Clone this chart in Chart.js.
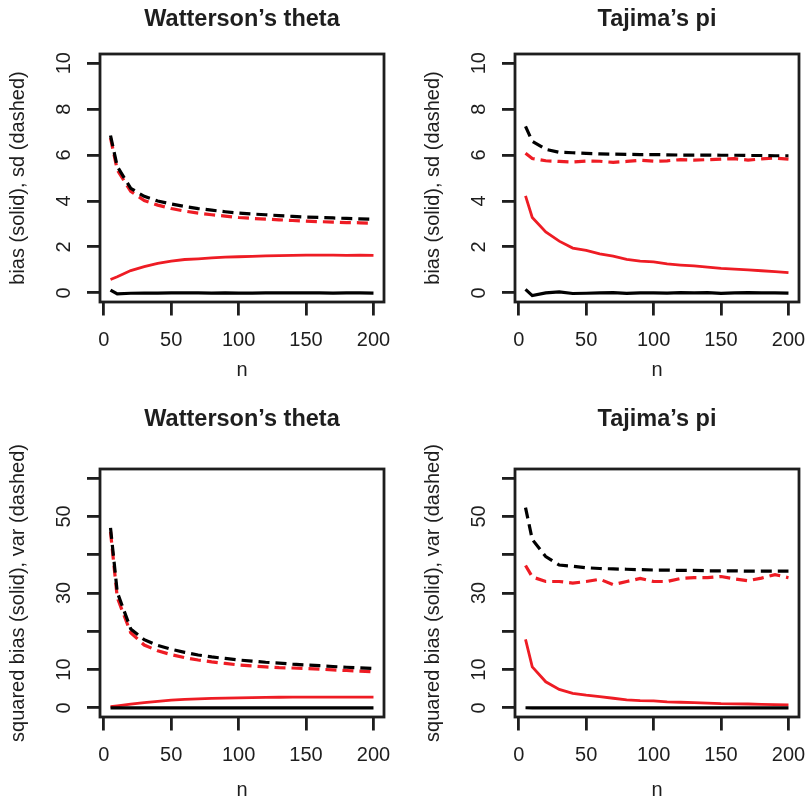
<!DOCTYPE html>
<html>
<head>
<meta charset="utf-8">
<script src="https://cdn.jsdelivr.net/npm/chart.js@4.4.1/dist/chart.umd.min.js"></script>
<style>
  html, body { margin: 0; padding: 0; background: #fff; }
  body { width: 805px; height: 800px; overflow: hidden; position: relative; }
  canvas { position: absolute; }
</style>
</head>
<body>
<canvas id="c1" width="484" height="420" style="left:0;top:0"></canvas>
<canvas id="c2" width="484" height="420" style="left:415px;top:0"></canvas>
<canvas id="c3" width="484" height="420" style="left:0;top:400px"></canvas>
<canvas id="c4" width="484" height="420" style="left:415px;top:400px"></canvas>
<script>
// ===== data =====
const N = [5, 10, 20, 30, 40, 50, 60, 70, 80, 90, 100, 110, 120, 130, 140, 150, 160, 170, 180, 190, 200];
const X_TICKS = [0, 50, 100, 150, 200];

// top row: bias (solid), sd (dashed)
const W_SD_BLACK = [6.85, 5.5, 4.55, 4.2, 4.0, 3.87, 3.76, 3.67, 3.6, 3.53, 3.47, 3.43, 3.4, 3.36, 3.33, 3.3, 3.28, 3.26, 3.24, 3.22, 3.2];
const W_SD_RED = [6.75, 5.35, 4.42, 4.02, 3.82, 3.67, 3.56, 3.47, 3.4, 3.34, 3.28, 3.24, 3.21, 3.18, 3.15, 3.12, 3.1, 3.08, 3.06, 3.05, 3.03];
const W_BIAS_RED = [0.58, 0.7, 0.97, 1.14, 1.28, 1.38, 1.45, 1.48, 1.52, 1.55, 1.57, 1.59, 1.61, 1.62, 1.63, 1.64, 1.64, 1.64, 1.63, 1.64, 1.63];
const W_BIAS_BLACK = [0.12, -0.05, -0.02, -0.01, -0.01, 0, 0, 0, -0.01, 0, -0.01, -0.01, 0, 0, 0, 0, 0, -0.01, 0, 0, -0.01];

const T_SD_BLACK = [7.25, 6.6, 6.25, 6.12, 6.1, 6.07, 6.05, 6.04, 6.03, 6.02, 6.02, 6.01, 6.0, 6.0, 6.0, 5.99, 5.99, 5.98, 5.98, 5.97, 5.97];
const T_SD_RED = [6.08, 5.85, 5.75, 5.72, 5.7, 5.74, 5.73, 5.68, 5.72, 5.77, 5.73, 5.75, 5.8, 5.78, 5.8, 5.82, 5.84, 5.78, 5.83, 5.87, 5.82];
const T_BIAS_RED = [4.22, 3.28, 2.65, 2.25, 1.95, 1.85, 1.7, 1.6, 1.46, 1.38, 1.35, 1.26, 1.21, 1.17, 1.12, 1.06, 1.03, 1.0, 0.96, 0.92, 0.88];
const T_BIAS_BLACK = [0.15, -0.12, 0.0, 0.04, -0.03, -0.02, 0.0, 0.01, -0.02, 0.0, 0.0, -0.01, 0.01, 0.0, 0.01, -0.02, 0.0, 0.01, 0.0, 0.0, -0.01];

// bottom row: squared bias (solid), var (dashed)
const W_VAR_BLACK = [47, 30.2, 20.6, 17.8, 16.3, 15.3, 14.5, 13.8, 13.3, 12.9, 12.5, 12.2, 11.9, 11.7, 11.4, 11.2, 11.0, 10.8, 10.6, 10.45, 10.3];
const W_VAR_RED = [46, 28.8, 19.6, 16.4, 14.9, 13.9, 13.1, 12.5, 12.0, 11.6, 11.2, 10.95, 10.7, 10.5, 10.4, 10.3, 10.1, 9.9, 9.75, 9.6, 9.4];
const W_SQB_RED = [0.3, 0.5, 0.95, 1.35, 1.7, 2.0, 2.2, 2.35, 2.45, 2.55, 2.62, 2.68, 2.72, 2.76, 2.78, 2.8, 2.8, 2.8, 2.8, 2.8, 2.78];
const W_SQB_BLACK = [0.01, 0, 0, 0, 0, 0, 0, 0, 0, 0, 0, 0, 0, 0, 0, 0, 0, 0, 0, 0, 0];

const T_VAR_BLACK = [52.3, 44, 39.5, 37.3, 37.0, 36.6, 36.4, 36.3, 36.2, 36.1, 36.0, 36.0, 35.9, 35.9, 35.8, 35.8, 35.8, 35.7, 35.7, 35.7, 35.7];
const T_VAR_RED = [37.2, 34.2, 33.0, 33.0, 32.6, 33.0, 33.6, 32.2, 33.0, 33.8, 33.0, 33.0, 33.8, 34.0, 34.0, 34.3, 33.7, 33.2, 33.9, 34.8, 34.0];
const T_SQB_RED = [17.9, 10.7, 6.8, 4.8, 3.8, 3.3, 2.9, 2.5, 2.1, 1.9, 1.8, 1.55, 1.45, 1.35, 1.25, 1.1, 1.05, 1.0, 0.9, 0.85, 0.78];
const T_SQB_BLACK = [0.02, 0.01, 0, 0, 0, 0, 0, 0, 0, 0, 0, 0, 0, 0, 0, 0, 0, 0, 0, 0, 0];

const Y_TICKS_TOP = [0, 2, 4, 6, 8, 10];
const Y_LABELS_TOP = ['0', '2', '4', '6', '8', '10'];
const Y_TICKS_BOTTOM = [0, 10, 20, 30, 40, 50, 60];
const Y_LABELS_BOTTOM = ['0', '10', '', '30', '', '50', ''];

// ===== style =====
const FONT = "'Liberation Sans', Arial, Helvetica, sans-serif";
const INK = '#1e1e1e';
const RED = '#ee1c24';
const BLACK = '#000';
const DASH = [11, 6];
const TICK_SIZE = 20;

// R-like box around the plot region
const boxPlugin = {
  id: 'rBox',
  afterDraw(chart) {
    const { ctx, chartArea: a } = chart;
    ctx.save();
    ctx.strokeStyle = INK;
    ctx.lineWidth = 2.8;
    ctx.strokeRect(a.left, a.top, a.right - a.left, a.bottom - a.top);
    ctx.restore();
  },
};

// y tick labels drawn parallel to the axis, like R's las=0
const yLabelPlugin = {
  id: 'rYLabels',
  afterDraw(chart, args, opts) {
    const y = chart.scales.y;
    const ctx = chart.ctx;
    ctx.save();
    ctx.font = `${TICK_SIZE}px ${FONT}`;
    ctx.fillStyle = INK;
    ctx.textAlign = 'center';
    ctx.textBaseline = 'middle';
    y.ticks.forEach((t, i) => {
      const lbl = opts.labels[i];
      if (!lbl) return;
      ctx.save();
      ctx.translate(opts.x, y.getPixelForValue(t.value));
      ctx.rotate(-Math.PI / 2);
      ctx.fillText(lbl, 0, 0);
      ctx.restore();
    });
    ctx.restore();
  },
};

function line(arr, color, dashed, width) {
  return {
    data: N.map((n, i) => ({ x: n, y: arr[i] })),
    borderColor: color,
    borderWidth: width,
    borderDash: dashed ? DASH : [],
    borderCapStyle: 'butt',
    pointRadius: 0,
    tension: 0,
    fill: false,
  };
}

function makePanel(id, cfg) {
  const xMin = N[0] - 0.04 * (N[N.length - 1] - N[0]);
  const xMax = N[N.length - 1] + 0.04 * (N[N.length - 1] - N[0]);
  const yRange = cfg.yMax - cfg.yMin;
  return new Chart(document.getElementById(id), {
    type: 'line',
    data: { datasets: cfg.series },
    plugins: [boxPlugin, yLabelPlugin],
    options: {
      responsive: false,
      animation: false,
      devicePixelRatio: 1,
      layout: { padding: 0 },
      plugins: {
        legend: { display: false },
        tooltip: { enabled: false },
        title: {
          display: true,
          text: cfg.title,
          color: INK,
          font: { family: FONT, size: 23.5, weight: 'bold', lineHeight: 1.2 },
          padding: { top: 5.9, bottom: cfg.titleGap },
        },
        rYLabels: { labels: cfg.yLabels, x: 64 },
      },
      scales: {
        x: {
          type: 'linear',
          min: xMin,
          max: xMax,
          afterBuildTicks: (s) => { s.ticks = X_TICKS.map((v) => ({ value: v })); },
          afterFit: (s) => { s.height = cfg.xHeight; },
          border: { display: false },
          grid: { drawOnChartArea: false, drawTicks: true, tickLength: 13.5, color: INK, lineWidth: 2.8 },
          ticks: {
            color: INK,
            padding: 12.8,
            maxRotation: 0,
            font: { family: FONT, size: TICK_SIZE },
            callback: (v) => String(v),
          },
          title: {
            display: true,
            text: 'n',
            color: INK,
            font: { family: FONT, size: TICK_SIZE, lineHeight: 1.2 },
            padding: { top: 0, bottom: cfg.nGap },
          },
        },
        y: {
          type: 'linear',
          position: 'left',
          min: cfg.yMin - 0.04 * yRange,
          max: cfg.yMax + 0.04 * yRange,
          afterBuildTicks: (s) => { s.ticks = cfg.yTicks.map((v) => ({ value: v })); },
          afterFit: (s) => { s.width = 100; },
          border: { display: false },
          grid: { drawOnChartArea: false, drawTicks: true, tickLength: 13, color: INK, lineWidth: 2.8 },
          ticks: { display: false },
          title: {
            display: true,
            text: cfg.yTitle,
            color: INK,
            font: { family: FONT, size: TICK_SIZE, lineHeight: 1.2 },
            padding: { top: 6.5, bottom: 0 },
          },
        },
        // empty right margin so the title centres over the plot box
        yr: {
          type: 'linear',
          position: 'right',
          afterFit: (s) => { s.width = 100; },
          border: { display: false },
          grid: { display: false },
          ticks: { display: false },
        },
      },
    },
  });
}

const TOP = { yMin: 0, yMax: 10, yTicks: Y_TICKS_TOP, yLabels: Y_LABELS_TOP, yTitle: 'bias (solid), sd (dashed)', titleGap: 19.9, xHeight: 118, nGap: 37.3 };
const BOTTOM = { yMin: 0, yMax: 60, yTicks: Y_TICKS_BOTTOM, yLabels: Y_LABELS_BOTTOM, yTitle: 'squared bias (solid), var (dashed)', titleGap: 34.9, xHeight: 103, nGap: 17.3 };

makePanel('c1', { ...TOP, title: 'Watterson\u2019s theta', series: [
  line(W_SD_BLACK, BLACK, true, 3.2), line(W_SD_RED, RED, true, 3.2),
  line(W_BIAS_BLACK, BLACK, false, 3.2), line(W_BIAS_RED, RED, false, 2.8),
] });
makePanel('c2', { ...TOP, title: 'Tajima\u2019s pi', series: [
  line(T_SD_BLACK, BLACK, true, 3.2), line(T_SD_RED, RED, true, 3.2),
  line(T_BIAS_BLACK, BLACK, false, 3.2), line(T_BIAS_RED, RED, false, 2.8),
] });
makePanel('c3', { ...BOTTOM, title: 'Watterson\u2019s theta', series: [
  line(W_VAR_BLACK, BLACK, true, 3.2), line(W_VAR_RED, RED, true, 3.2),
  line(W_SQB_BLACK, BLACK, false, 3.2), line(W_SQB_RED, RED, false, 2.8),
] });
makePanel('c4', { ...BOTTOM, title: 'Tajima\u2019s pi', series: [
  line(T_VAR_BLACK, BLACK, true, 3.2), line(T_VAR_RED, RED, true, 3.2),
  line(T_SQB_BLACK, BLACK, false, 3.2), line(T_SQB_RED, RED, false, 2.8),
] });
</script>
</body>
</html>
